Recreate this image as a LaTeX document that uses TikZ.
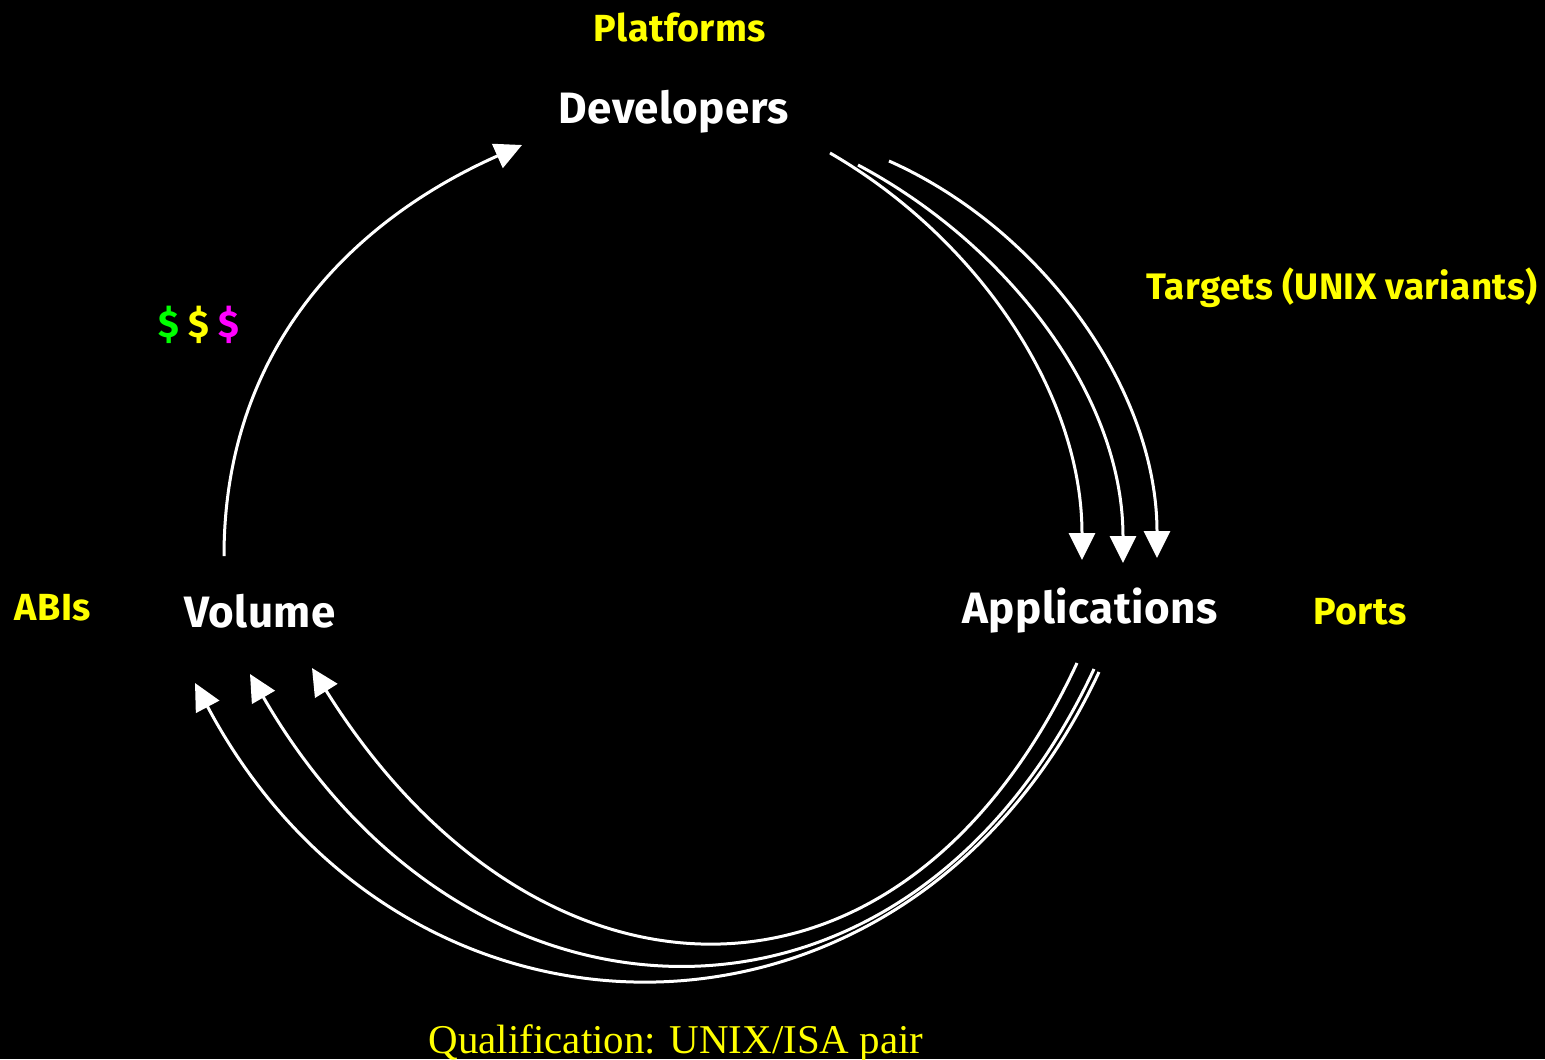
\documentclass[tikz,border=0pt]{standalone}
\usepackage{fontspec}
\usepackage{xcolor}
\setmainfont{Liberation Serif}
\newfontfamily\etiqueta[LetterSpace=1]{Fira Sans}
\usetikzlibrary{arrows.meta}
\definecolor{amarillo}{RGB}{255,255,0}
\definecolor{verde}{RGB}{0,255,0}
\definecolor{rosa}{RGB}{255,0,255}

\begin{document}
\begin{tikzpicture}[x=0.02cm, y=0.02cm, ->, >={Triangle[length=0.54cm,width=0.52cm]}, line width=0.06cm, draw=white]
    \tikzstyle{principal}=[text=white, font=\etiqueta\bfseries\fontsize{25}{29}\selectfont]
    \tikzstyle{nota}=[text=amarillo, font=\etiqueta\bfseries\fontsize{21.5}{25}\selectfont]

    % Fondo
    \path[fill=black, -] (0,0) rectangle (1545,-1059);
    \useasboundingbox (0,0) rectangle (1545,-1059);

    % Nodos del ciclo
    \node[principal] (dev)   at (674,-112)  {Developers};
    \node[principal] (app)   at (1090,-611) {Applications};
    \node[principal] (vol)   at (260,-611)  {Volume};

    % Notas
    \node[nota]      (plat)  at (680,-27)   {Platforms};
    \node[nota, font=\etiqueta\bfseries\fontsize{21}{25}\selectfont]
                     (targ)  at (1342,-288) {Targets (UNIX variants)};
    \node[nota]      (ports) at (1360,-612) {Ports};
    \node[nota]      (abis)  at (53,-608)   {ABIs};
    \node[nota]      (pesos) at (199,-325)  {\textcolor{verde}{\$} \textcolor{amarillo}{\$} \textcolor{rosa}{\$}};
    \node[text=amarillo, font=\fontsize{23.3}{27}\selectfont] (calif) at (676,-1043) {Qualification: UNIX/ISA pair};

    % Extremos de las flechas
    \coordinate (vol-sal)  at (224,-556);
    \coordinate (dev-ent)  at (522,-145);
    \coordinate (dev-sal1) at (830,-153);
    \coordinate (dev-sal2) at (858,-165);
    \coordinate (dev-sal3) at (889,-161);
    \coordinate (app-ent1) at (1082,-560);
    \coordinate (app-ent2) at (1123,-563);
    \coordinate (app-ent3) at (1157,-558);
    \coordinate (app-sal1) at (1077,-663);
    \coordinate (app-sal2) at (1094,-669);
    \coordinate (app-sal3) at (1099,-672);
    \coordinate (vol-ent1) at (312,-668);
    \coordinate (vol-ent2) at (250,-674);
    \coordinate (vol-ent3) at (195,-683);

    \path
        (vol-sal)  edge [out=90,  in=204]                  (dev-ent)
        (dev-sal1) edge [out=-30, in=90, looseness=0.9]    (app-ent1)
        (dev-sal2) edge [out=-28, in=90, looseness=0.9]    (app-ent2)
        (dev-sal3) edge [out=-24, in=90, looseness=0.9]    (app-ent3)
        (app-sal1) edge [out=245, in=-58, looseness=1.4]   (vol-ent1)
        (app-sal2) edge [out=245, in=-60, looseness=1.33]  (vol-ent2)
        (app-sal3) edge [out=245, in=-62, looseness=1.27]  (vol-ent3)
    ;
\end{tikzpicture}
\end{document}
